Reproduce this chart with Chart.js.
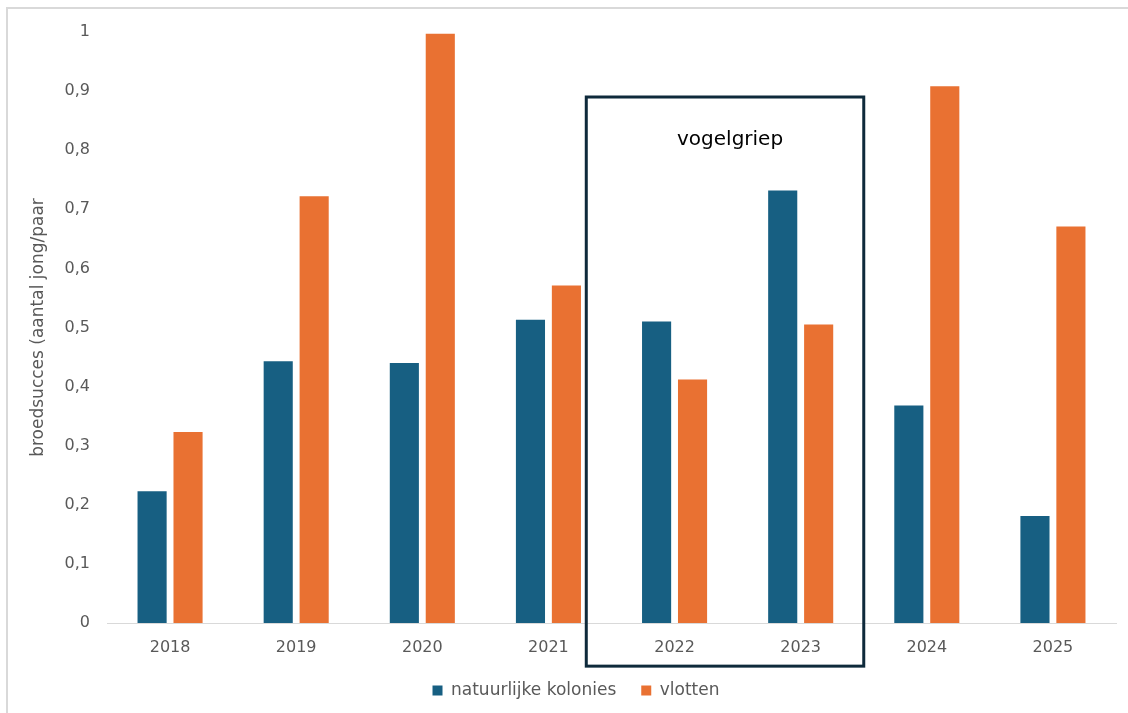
<!DOCTYPE html>
<html>
<head>
<meta charset="utf-8">
<script src="https://cdn.jsdelivr.net/npm/chart.js"></script>
<style>
  html, body { margin: 0; padding: 0; background: #fff; overflow: hidden; }
  #frame {
    position: absolute; left: 6px; top: 7px; width: 1200px; height: 760px;
    border: 2px solid #d9d9d9; box-sizing: border-box;
  }
  #chart { position: absolute; left: 0; top: 0; }
</style>
</head>
<body>
<div id="frame"></div>
<canvas id="chart" width="1128" height="713"></canvas>
<script>
const years = ["2018", "2019", "2020", "2021", "2022", "2023", "2024", "2025"];
const natuurlijk = [0.223, 0.443, 0.440, 0.513, 0.510, 0.732, 0.368, 0.181];
const vlotten = [0.323, 0.722, 0.997, 0.571, 0.412, 0.505, 0.908, 0.671];
const yTicks = [0, 0.1, 0.2, 0.3, 0.4, 0.5, 0.6, 0.7, 0.8, 0.9, 1];

// highlighted period, in scale units (category index / y value)
const boxFrom = 3.3, boxTo = 5.5, boxTop = 0.89, boxBottom = -0.073;
const boxLabel = "vogelgriep";
const boxLabelAt = { x: 4.44, y: 0.817 };

const font = "'DejaVu Sans', sans-serif";
const grey = "#595959";

const vogelgriepBox = {
    id: "vogelgriepBox",
    afterLayout(chart) {
        // legend sits a bit right of the canvas centre in the original
        chart.legend.left += 18;
        chart.legend.right += 18;
    },
    afterDatasetsDraw(chart) {
        const { ctx, scales: { x, y } } = chart;
        const l = x.getPixelForValue(boxFrom);
        const r = x.getPixelForValue(boxTo);
        const t = y.getPixelForValue(boxTop);
        const b = y.getPixelForValue(boxBottom);
        ctx.save();
        ctx.strokeStyle = "#0e2a3b";
        ctx.lineWidth = 3;
        ctx.strokeRect(l, t, r - l, b - t);
        ctx.fillStyle = "#000";
        ctx.font = "20px " + font;
        ctx.textAlign = "center";
        ctx.textBaseline = "middle";
        ctx.fillText(boxLabel, x.getPixelForValue(boxLabelAt.x), y.getPixelForValue(boxLabelAt.y));
        ctx.restore();
    }
};

new Chart(document.getElementById("chart"), {
    type: "bar",
    data: {
        labels: years,
        datasets: [
            { label: "natuurlijke kolonies", data: natuurlijk, backgroundColor: "#175f82" },
            { label: "vlotten", data: vlotten, backgroundColor: "#e97132" }
        ]
    },
    options: {
        responsive: false,
        animation: false,
        categoryPercentage: 0.57,
        barPercentage: 0.81,
        layout: { padding: { top: 32, right: 12, left: 0, bottom: 4 } },
        plugins: {
            tooltip: { enabled: false },
            legend: {
                position: "bottom",
                labels: {
                    boxWidth: 10, boxHeight: 10, color: grey,
                    font: { family: font, size: 17 }, padding: 25
                }
            }
        },
        scales: {
            x: {
                grid: { display: false },
                border: { display: true, color: "#d9d9d9", width: 1 },
                ticks: { color: grey, font: { family: font, size: 16 }, padding: 7 },
                afterFit(s) { s.height = 34; }
            },
            y: {
                min: 0, max: 1,
                grid: { display: false },
                border: { display: false },
                afterBuildTicks(s) { s.ticks = yTicks.map(v => ({ value: v })); },
                ticks: {
                    color: grey, font: { family: font, size: 16 }, padding: 9,
                    callback: v => String(v).replace(".", ",")
                },
                title: {
                    display: true, text: "broedsucces (aantal jong/paar",
                    color: grey, font: { family: font, size: 17 }, padding: { top: 28, bottom: 0 }
                },
                afterFit(s) { s.width = 107; }
            }
        }
    },
    plugins: [vogelgriepBox]
});
</script>
</body>
</html>
